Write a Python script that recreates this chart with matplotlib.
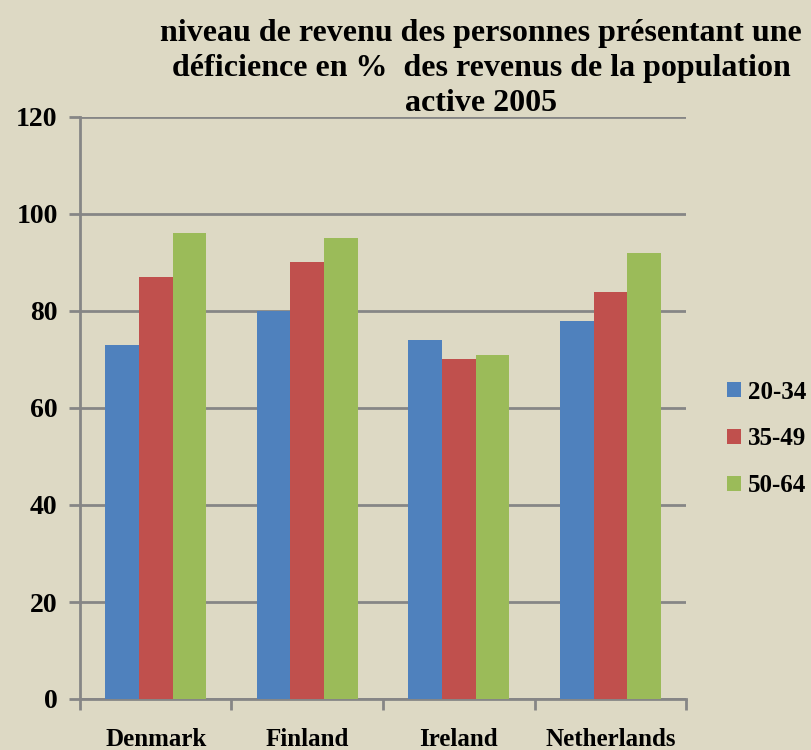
import matplotlib.pyplot as plt
import numpy as np

# ---------------------------------------------------------------------------
# Data
# ---------------------------------------------------------------------------
countries = ["Denmark", "Finland", "Ireland", "Netherlands"]
age_groups = ["20-34", "35-49", "50-64"]
values_20_34 = [73, 80, 74, 78]
values_35_49 = [87, 90, 70, 84]
values_50_64 = [96, 95, 71, 92]

title_lines = ["niveau de revenu des personnes présentant une",
               "déficience en %  des revenus de la population",
               "active 2005"]

BG = "#DDD9C4"
COLORS = ["#4F81BD", "#C0504D", "#9BBB59"]
GRID = "#868686"
FONT = "Liberation Serif"

plt.rcParams["font.family"] = FONT
plt.rcParams["font.weight"] = "bold"

fig = plt.figure(figsize=(8.11, 7.5), dpi=100)
fig.patch.set_facecolor(BG)
ax = fig.add_axes([0.0986, 0.068, 0.7474, 0.776])
ax.set_facecolor(BG)

x = np.arange(len(countries))
bar_w = 1 / 4.5
series = [values_20_34, values_35_49, values_50_64]
for i, (vals, col, lab) in enumerate(zip(series, COLORS, age_groups)):
    ax.bar(x + (i - 1) * bar_w, vals, width=bar_w, color=col,
           label=lab, zorder=3, linewidth=0)

ax.set_xlim(-0.5, len(countries) - 0.5)
ax.set_ylim(0, 120)
ax.set_yticks(np.arange(0, 121, 20))
ax.yaxis.grid(True, color=GRID, linewidth=2.0, zorder=0)
ax.set_axisbelow(True)

ax.set_xticks(x)
ax.set_xticklabels(countries, fontsize=18, fontweight="bold")
ax.set_xticks(np.arange(-0.5, len(countries), 1), minor=True)
ax.tick_params(axis="x", which="major", length=0, pad=21)
ax.tick_params(axis="x", which="minor", length=8, width=2, color=GRID)
ax.tick_params(axis="y", length=8, width=2, color=GRID, labelsize=20, pad=8)
for lab in ax.get_yticklabels():
    lab.set_fontweight("bold")

for side in ["top", "right"]:
    ax.spines[side].set_visible(False)
for side in ["left", "bottom"]:
    ax.spines[side].set_color(GRID)
    ax.spines[side].set_linewidth(2.0)

# title, one line at a time, centred
for k, line in enumerate(title_lines):
    fig.text(0.593, 0.956 - k * 0.0467, line, ha="center", va="center",
             fontsize=23, fontweight="bold")

leg = ax.legend(loc="center left", bbox_to_anchor=(1.03, 0.447),
                frameon=False, handlelength=0.55, handleheight=0.55,
                handletextpad=0.3, labelspacing=0.95,
                prop={"family": FONT, "weight": "bold", "size": 18})

fig.savefig("out.png", dpi=100, facecolor=BG)
